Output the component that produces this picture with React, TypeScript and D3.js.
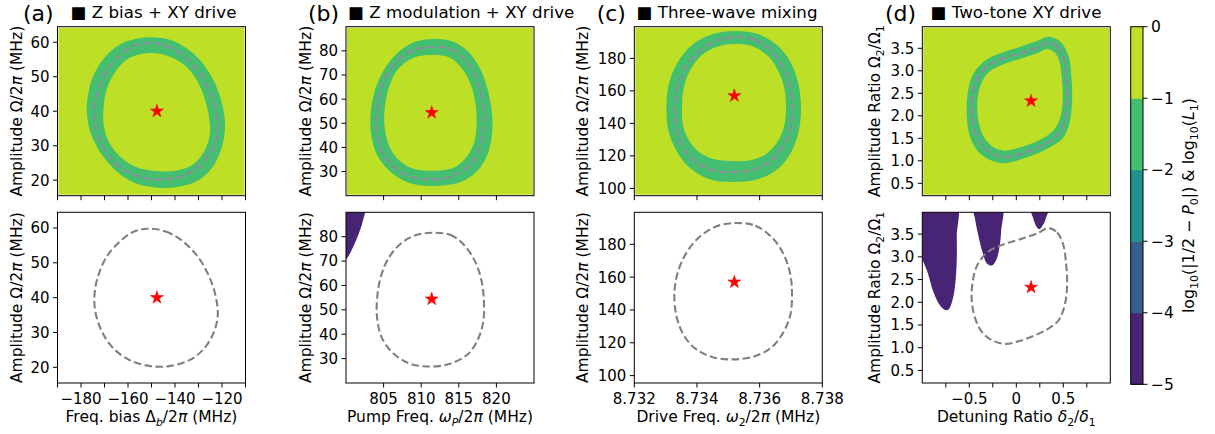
import React from 'react';
import * as d3 from 'd3';

type Pt = [number, number];

// (a) Z bias + XY drive  -- x: freq bias (MHz), y: amplitude (MHz)
const aContour: Pt[] = [
  [-151.85, 59.77], [-144.0, 59.0], [-136.9, 56.3], [-130.5, 51.94], [-125.5, 46.14],
  [-122.68, 40.35], [-121.8, 35.03], [-123.4, 30.2], [-127.65, 25.36], [-134.06, 21.98],
  [-142.6, 20.34], [-150.4, 20.34], [-158.96, 21.98], [-166.1, 25.36], [-171.06, 30.2],
  [-173.9, 35.99], [-174.2, 41.31], [-172.5, 46.63], [-168.9, 51.94], [-163.9, 55.8], [-158.3, 58.7],
];
const aOuter: Pt[] = [
  [-151.14, 61.41], [-141.89, 60.64], [-134.06, 57.74], [-127.66, 53.39], [-122.68, 47.59],
  [-119.83, 41.79], [-118.7, 35.99], [-119.83, 30.19], [-123.39, 24.4], [-129.79, 20.05],
  [-138.33, 18.11], [-147.58, 17.82], [-156.83, 19.08], [-164.66, 22.46], [-171.06, 27.3],
  [-175.61, 33.1], [-177.46, 38.9], [-177.03, 44.69], [-174.6, 50.49], [-169.63, 55.81], [-162.52, 59.67],
];
const aInner: Pt[] = [
  [-151.14, 56.87], [-143.31, 56.1], [-136.9, 53.88], [-131.21, 49.53], [-127.66, 44.21],
  [-125.52, 38.41], [-125.24, 33.1], [-127.66, 28.26], [-132.64, 24.4], [-139.75, 22.75],
  [-148.29, 22.66], [-156.83, 23.91], [-163.23, 26.81], [-168.21, 31.16], [-170.35, 35.99],
  [-170.35, 41.31], [-168.92, 46.63], [-165.37, 51.46], [-159.67, 55.32],
];
const aStar: Pt = [-147.7, 40];
const aXTicks = [-190, -180, -170, -160, -150, -140, -130, -120, -110];
const aXText = ['', '−180', '', '−160', '', '−140', '', '−120', ''];
const aYTicks = [20, 30, 40, 50, 60];

// (b) Z modulation + XY drive -- x: pump freq (MHz), y: amplitude (MHz)
const bContour: Pt[] = [
  [811.64, 81.59], [813.84, 80.76], [815.61, 76.9], [817.15, 69.99], [818.03, 61.71],
  [818.34, 53.42], [818.25, 45.14], [817.59, 38.24], [816.27, 32.02], [813.84, 27.88],
  [811.2, 26.77], [808.55, 27.88], [806.35, 32.02], [804.81, 38.24], [804.14, 46.52],
  [804.14, 54.8], [804.59, 63.09], [805.69, 71.37], [807.45, 77.59], [809.43, 80.76],
];
const bOuter: Pt[] = [
  [811.64, 84.9], [814.28, 83.8], [816.27, 79.66], [817.81, 72.75], [818.91, 63.09],
  [819.44, 53.42], [819.36, 43.76], [818.69, 36.16], [817.37, 29.95], [815.17, 25.53],
  [811.64, 24.01], [808.55, 25.12], [805.91, 29.95], [804.14, 36.85], [803.35, 45.14],
  [803.26, 53.42], [803.79, 63.09], [805.03, 72.06], [807.01, 79.66], [809.21, 83.8],
];
const bInner: Pt[] = [
  [811.55, 78.28], [813.84, 77.17], [815.39, 72.75], [816.62, 65.85], [817.24, 57.56],
  [817.37, 49.28], [817.06, 42.38], [816.05, 36.16], [814.28, 31.6], [811.42, 30.36],
  [808.77, 31.33], [807.01, 34.78], [805.69, 41.0], [805.11, 49.28], [805.2, 57.56],
  [805.82, 65.85], [807.01, 72.75], [808.99, 77.17],
];
const bLeak: Pt[] = [
  [799.0, 92], [802.45, 92], [802.2, 86], [801.6, 80.5], [800.9, 75.5], [800.1, 71], [799.0, 68],
];
const bStar: Pt = [811.4, 54.4];
const bXTicks = [805, 810, 815, 820];
const bXText = ['805', '810', '815', '820'];
const bYTicks = [30, 40, 50, 60, 70, 80];

// (c) Three-wave mixing -- x: drive freq (MHz), y: amplitude (MHz)
const cContour: Pt[] = [
  [8.735224, 192.96], [8.735863, 191.32], [8.736395, 184.14], [8.736767, 173.88], [8.73698, 161.57],
  [8.737033, 149.26], [8.73698, 136.96], [8.736767, 126.7], [8.736395, 117.47], [8.735863, 111.93],
  [8.735171, 109.88], [8.73448, 111.31], [8.733948, 116.44], [8.733576, 124.65], [8.733363, 134.9],
  [8.733278, 147.21], [8.733342, 159.52], [8.733576, 171.83], [8.734001, 183.11], [8.734586, 190.7],
];
const cOuter: Pt[] = [
  [8.735224, 196.85], [8.735969, 194.8], [8.736554, 188.24], [8.73698, 177.98], [8.737246, 163.62],
  [8.73732, 149.26], [8.737246, 134.9], [8.737012, 122.6], [8.736607, 112.34], [8.735969, 105.77],
  [8.735118, 103.93], [8.734373, 105.77], [8.733788, 112.34], [8.733363, 122.6], [8.733097, 134.9],
  [8.733022, 149.26], [8.733097, 163.62], [8.733363, 176.96], [8.733842, 188.24], [8.73448, 194.8],
];
const cInner: Pt[] = [
  [8.735224, 188.85], [8.735809, 187.21], [8.736288, 181.06], [8.736607, 171.83], [8.736788, 161.57],
  [8.736841, 150.29], [8.736788, 139.01], [8.736607, 129.78], [8.736235, 121.57], [8.735756, 117.47],
  [8.735118, 116.85], [8.734533, 118.08], [8.734054, 122.6], [8.733735, 129.78], [8.733554, 139.01],
  [8.733522, 150.29], [8.733576, 161.57], [8.733788, 172.85], [8.734161, 182.08], [8.73464, 187.21],
];
const cStar: Pt = [8.735193, 157];
const cXTicks = [8.732, 8.734, 8.736, 8.738];
const cXText = ['8.732', '8.734', '8.736', '8.738'];
const cYTicks = [100, 120, 140, 160, 180];

// (d) Two-tone XY drive -- x: detuning ratio, y: amplitude ratio
const dContour: Pt[] = [
  [0.3451, 3.6326], [0.434, 3.5363], [0.4981, 3.277], [0.5301, 2.8326], [0.5407, 2.3882],
  [0.5158, 1.9437], [0.4518, 1.6104], [0.3451, 1.4252], [0.185, 1.2622], [0.0249, 1.1437],
  [-0.1174, 1.0844], [-0.2597, 1.1659], [-0.3664, 1.3511], [-0.4376, 1.6474], [-0.4731, 2.0178],
  [-0.466, 2.4252], [-0.4198, 2.7956], [-0.313, 3.0918], [-0.153, 3.2622], [0.0427, 3.3881], [0.2205, 3.5141],
];
const dOuter: Pt[] = [
  [0.3451, 3.7585], [0.4696, 3.6474], [0.5585, 3.3141], [0.587, 2.8326], [0.5941, 2.3511],
  [0.5692, 1.8696], [0.498, 1.5141], [0.37, 1.3141], [0.2028, 1.1437], [0.0249, 1.0178],
  [-0.1352, 0.9437], [-0.2953, 1.0326], [-0.4198, 1.24], [-0.498, 1.5733], [-0.5265, 2.0178],
  [-0.5194, 2.4622], [-0.4731, 2.8696], [-0.3486, 3.203], [-0.1707, 3.3881], [0.0249, 3.5215], [0.2205, 3.6622],
];
const dInner: Pt[] = [
  [0.3273, 3.4845], [0.4162, 3.3881], [0.4625, 3.1659], [0.4874, 2.7585], [0.4945, 2.3511],
  [0.4696, 1.9807], [0.4091, 1.7067], [0.3095, 1.5363], [0.1672, 1.3881], [0.0071, 1.277],
  [-0.1174, 1.2252], [-0.2348, 1.2918], [-0.3238, 1.4622], [-0.3841, 1.7215], [-0.4127, 2.0548],
  [-0.4091, 2.4252], [-0.3664, 2.7585], [-0.2775, 2.9956], [-0.1352, 3.1437], [0.0604, 3.277], [0.2205, 3.3881],
];
const dLeak1: Pt[] = [
  [-1.1, 4.2], [-0.6403, 4.2], [-0.6332, 3.4474], [-0.6332, 2.9289], [-0.651, 2.3733],
  [-0.6795, 2.04], [-0.7222, 1.84], [-0.7578, 1.8326], [-0.8111, 1.9289], [-0.8822, 2.2252],
  [-0.9463, 2.6696], [-1.03, 3.1], [-1.1, 3.6],
];
const dLeak2: Pt[] = [
  [-0.4554, 4.15], [-0.153, 4.15], [-0.1601, 3.5956], [-0.1779, 3.2252], [-0.2135, 2.9289],
  [-0.2597, 2.8104], [-0.3131, 2.8548], [-0.3557, 3.077], [-0.402, 3.4474], [-0.4376, 3.8178],
];
const dLeak3: Pt[] = [
  [0.155, 4.1], [0.339, 4.1], [0.3095, 3.8178], [0.2739, 3.6696], [0.2455, 3.6104],
  [0.2135, 3.6696], [0.185, 3.8178],
];
const dStar: Pt = [0.157, 2.33];
const dXTicks = [-0.75, -0.5, -0.25, 0, 0.25, 0.5, 0.75];
const dXText = ['', '−0.5', '', '0', '', '0.5', ''];
const dYTicks = [0.5, 1.0, 1.5, 2.0, 2.5, 3.0, 3.5];

// colorbar levels
const cbLevels = [-5, -4, -3, -2, -1, 0];
const cbText = ['−5', '−4', '−3', '−2', '−1', '0'];

const AX_W = 188;
const TOP_Y = 26.7, TOP_H = 169;
const BOT_Y = 212.3, BOT_H = 170.7;
const FONT = 'DejaVu Sans';

const levelColor = (lo: number) => d3.interpolateViridis((lo + 5.5) / 5);
const BG = levelColor(-1);
const BAND = levelColor(-2);
const TEAL = levelColor(-3);
const LEAK = levelColor(-5);

type Seg = { t: string; it?: boolean; sub?: boolean };

function MathText({ segs, size }: { segs: Seg[]; size: number }) {
  let shifted = false;
  const shift = size * 0.24;
  return (
    <>
      {segs.map((s, i) => {
        let dy: number | undefined;
        if (s.sub && !shifted) { dy = shift; shifted = true; }
        else if (!s.sub && shifted) { dy = -shift; shifted = false; }
        return (
          <tspan key={i} dy={dy} fontStyle={s.it ? 'italic' : undefined}
            fontSize={s.sub ? size * 0.7 : undefined}>{s.t}</tspan>
        );
      })}
    </>
  );
}

const ampLabel: Seg[] = [{ t: 'Amplitude Ω/2' }, { t: 'π', it: true }, { t: '\u00a0(MHz)' }];
const ratioLabel: Seg[] = [{ t: 'Amplitude Ratio Ω' }, { t: '2', sub: true }, { t: '/Ω' }, { t: '1', sub: true }];

interface PanelProps {
  id: string;
  left: number;
  top: number;
  height: number;
  xDomain: [number, number];
  yDomain: [number, number];
  xTicks: number[];
  xText: string[];
  showXText: boolean;
  yTicks: number[];
  yFmt: (v: number) => string;
  yLabel: Seg[];
  yLabelX: number;
  xLabel?: Seg[];
  filled: boolean;
  outer?: Pt[];
  inner?: Pt[];
  contour: Pt[];
  leaks?: Pt[][];
  star: Pt;
}

function Panel(p: PanelProps) {
  const x = d3.scaleLinear().domain(p.xDomain).range([p.left, p.left + AX_W]);
  const y = d3.scaleLinear().domain(p.yDomain).range([p.top + p.height, p.top]);
  const closed = d3.line<Pt>().x(d => x(d[0])).y(d => y(d[1])).curve(d3.curveCatmullRomClosed.alpha(0.5));
  const bottom = p.top + p.height;
  const star = d3.symbol(d3.symbolStar, 52)() as string;
  return (
    <g>
      <defs>
        <clipPath id={p.id}>
          <rect x={p.left} y={p.top} width={AX_W} height={p.height} />
        </clipPath>
      </defs>
      <g clipPath={`url(#${p.id})`}>
        {p.filled && (
          <>
            <rect x={p.left + 1} y={p.top + 1} width={AX_W - 2} height={p.height - 2} fill={BG} />
            <path d={(closed(p.outer!) || '') + (closed(p.inner!) || '')} fill={BAND} fillRule="evenodd" />
            <path d={closed(p.contour) || ''} fill="none" stroke={TEAL} strokeWidth={1.6} strokeDasharray="2 9" />
          </>
        )}
        {p.leaks && p.leaks.map((r, i) => <path key={i} d={closed(r) || ''} fill={LEAK} />)}
        <path d={closed(p.contour) || ''} fill="none" stroke={p.filled ? '#928b9e' : '#808080'}
          strokeWidth={2.1} strokeDasharray="7.5 3.5" />
        <path d={star} transform={`translate(${x(p.star[0])},${y(p.star[1])})`} fill="#ff0000" stroke="#ff0000" strokeWidth={0.6} />
      </g>
      <rect x={p.left} y={p.top} width={AX_W} height={p.height} fill="none" stroke="#000" strokeWidth={1} />
      {p.xTicks.map((t, i) => (
        <g key={i}>
          <line x1={x(t)} x2={x(t)} y1={bottom} y2={bottom + 4.5} stroke="#000" strokeWidth={1} />
          {p.showXText && p.xText[i] && (
            <text x={x(t)} y={bottom + 21} textAnchor="middle" fontSize={15}>{p.xText[i]}</text>
          )}
        </g>
      ))}
      {p.yTicks.map((t, i) => (
        <g key={i}>
          <line x1={p.left - 4.5} x2={p.left} y1={y(t)} y2={y(t)} stroke="#000" strokeWidth={1} />
          <text x={p.left - 8} y={y(t)} dy="0.36em" textAnchor="end" fontSize={15}>{p.yFmt(t)}</text>
        </g>
      ))}
      <text transform={`translate(${p.yLabelX},${p.top + p.height / 2}) rotate(-90)`} textAnchor="middle" fontSize={15.5}>
        <MathText segs={p.yLabel} size={15.5} />
      </text>
      {p.showXText && p.xLabel && (
        <text x={p.left + AX_W / 2} y={bottom + 39} textAnchor="middle" fontSize={15.5}>
          <MathText segs={p.xLabel} size={15.5} />
        </text>
      )}
    </g>
  );
}

const intFmt = (v: number) => (v < 0 ? '−' + Math.abs(v) : String(v));
const oneDec = (v: number) => v.toFixed(1);

const panels = [
  {
    key: 'a', left: 57.5, letter: '(a)', letterX: 23, title: 'Z bias + XY drive', titleX: 70.7,
    xDomain: [-190, -110] as [number, number], yDomain: [15.5, 64.5] as [number, number],
    xTicks: aXTicks, xText: aXText, yTicks: aYTicks, yFmt: intFmt, yLabel: ampLabel, yLabelX: 21.5,
    xLabel: [{ t: 'Freq. bias Δ' }, { t: 'b', sub: true, it: true }, { t: '/2' }, { t: 'π', it: true }, { t: '\u00a0(MHz)' }] as Seg[],
    outer: aOuter, inner: aInner, contour: aContour, star: aStar, leaks: [] as Pt[][],
  },
  {
    key: 'b', left: 346, letter: '(b)', letterX: 308, title: 'Z modulation + XY drive', titleX: 348.3,
    xDomain: [800, 825] as [number, number], yDomain: [20, 90] as [number, number],
    xTicks: bXTicks, xText: bXText, yTicks: bYTicks, yFmt: intFmt, yLabel: ampLabel, yLabelX: 311,
    xLabel: [{ t: 'Pump Freq. ' }, { t: 'ω', it: true }, { t: 'P', sub: true, it: true }, { t: '/2' }, { t: 'π', it: true }, { t: '\u00a0(MHz)' }] as Seg[],
    outer: bOuter, inner: bInner, contour: bContour, star: bStar, leaks: [bLeak],
  },
  {
    key: 'c', left: 634.3, letter: '(c)', letterX: 596.7, title: 'Three-wave mixing', titleX: 636.7,
    xDomain: [8.732, 8.738] as [number, number], yDomain: [95.5, 199.5] as [number, number],
    xTicks: cXTicks, xText: cXText, yTicks: cYTicks, yFmt: intFmt, yLabel: ampLabel, yLabelX: 588,
    xLabel: [{ t: 'Drive Freq. ' }, { t: 'ω', it: true }, { t: '2', sub: true }, { t: '/2' }, { t: 'π', it: true }, { t: '\u00a0(MHz)' }] as Seg[],
    outer: cOuter, inner: cInner, contour: cContour, star: cStar, leaks: [] as Pt[][],
  },
  {
    key: 'd', left: 922.3, letter: '(d)', letterX: 885, title: 'Two-tone XY drive', titleX: 930.7,
    xDomain: [-1, 1] as [number, number], yDomain: [0.224, 3.98] as [number, number],
    xTicks: dXTicks, xText: dXText, yTicks: dYTicks, yFmt: oneDec, yLabel: ratioLabel, yLabelX: 880,
    xLabel: [{ t: 'Detuning Ratio ' }, { t: 'δ', it: true }, { t: '2', sub: true }, { t: '/' }, { t: 'δ', it: true }, { t: '1', sub: true }] as Seg[],
    outer: dOuter, inner: dInner, contour: dContour, star: dStar, leaks: [dLeak1, dLeak2, dLeak3],
  },
];

function Colorbar() {
  const x0 = 1130.7, w = 12.3;
  const y = d3.scaleLinear().domain([-5, 0]).range([384.3, 26.7]);
  const cbSegs: Seg[] = [
    { t: 'log' }, { t: '10', sub: true }, { t: '(|1/2 − ' }, { t: 'P', it: true }, { t: '0', sub: true },
    { t: '|) & log' }, { t: '10', sub: true }, { t: '(' }, { t: 'L', it: true }, { t: '1', sub: true }, { t: ')' },
  ];
  return (
    <g>
      {cbLevels.slice(0, -1).map((lo, i) => (
        <rect key={i} x={x0} y={y(cbLevels[i + 1])} width={w} height={y(lo) - y(cbLevels[i + 1]) + 0.5} fill={levelColor(lo)} />
      ))}
      <rect x={x0} y={y(0)} width={w} height={y(-5) - y(0)} fill="none" stroke="#000" strokeWidth={1} />
      {cbLevels.map((v, i) => (
        <g key={i}>
          <line x1={x0 + w} x2={x0 + w + 4.5} y1={y(v)} y2={y(v)} stroke="#000" strokeWidth={1} />
          <text x={x0 + w + 8} y={y(v)} dy="0.36em" fontSize={15.5}>{cbText[i]}</text>
        </g>
      ))}
      <text transform={`translate(1194,${(y(0) + y(-5)) / 2}) rotate(-90)`} textAnchor="middle" fontSize={15.8}>
        <MathText segs={cbSegs} size={15.8} />
      </text>
    </g>
  );
}

export default function App() {
  return (
    <svg width={1215} height={434} style={{ position: 'absolute', left: 0, top: 0, background: '#fff' }}
      fontFamily={FONT} fill="#000">
      {panels.map(p => (
        <g key={p.key}>
          <text x={p.letterX} y={20.5} fontSize={22}>{p.letter}</text>
          <text x={p.titleX} y={18.3} fontSize={16.7} style={{ whiteSpace: 'pre' }}>{'■ ' + p.title}</text>
          <Panel id={`clip-top-${p.key}`} left={p.left} top={TOP_Y} height={TOP_H}
            xDomain={p.xDomain} yDomain={p.yDomain} xTicks={p.xTicks} xText={p.xText} showXText={false}
            yTicks={p.yTicks} yFmt={p.yFmt} yLabel={p.yLabel} yLabelX={p.yLabelX}
            filled outer={p.outer} inner={p.inner} contour={p.contour} star={p.star} />
          <Panel id={`clip-bot-${p.key}`} left={p.left} top={BOT_Y} height={BOT_H}
            xDomain={p.xDomain} yDomain={p.yDomain} xTicks={p.xTicks} xText={p.xText} showXText
            yTicks={p.yTicks} yFmt={p.yFmt} yLabel={p.yLabel} yLabelX={p.yLabelX} xLabel={p.xLabel}
            filled={false} contour={p.contour} star={p.star} leaks={p.leaks} />
        </g>
      ))}
      <Colorbar />
    </svg>
  );
}
